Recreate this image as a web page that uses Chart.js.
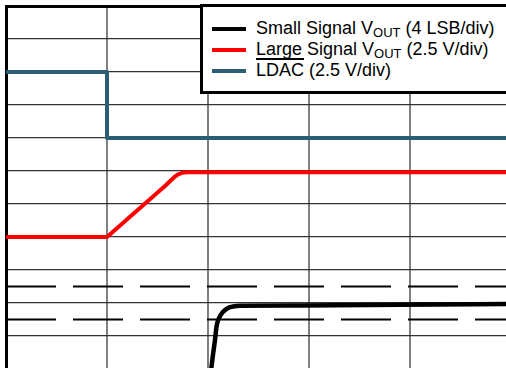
<!DOCTYPE html>
<html>
<head>
<meta charset="utf-8">
<script src="https://cdn.jsdelivr.net/npm/chart.js@4/dist/chart.umd.min.js"></script>
<style>
  html, body { margin: 0; padding: 0; background: #fff; overflow: hidden; }
  #wrap { position: relative; width: 506px; height: 368px; }
  #legend {
    position: absolute; left: 200px; top: 4px; width: 330px; height: 90px;
    box-sizing: border-box; border: 3px solid #000; border-right: none;
    background: #fff; font-family: "Liberation Sans", Arial, sans-serif; color: #000;
  }
  .row { position: absolute; left: 0; height: 20px; }
  .swatch { position: absolute; left: 9px; width: 34px; height: 4px; }
  .label { position: absolute; left: 53px; top: -11px; font-size: 18px; white-space: nowrap; line-height: 20px; }
  .label sub { font-size: 13px; vertical-align: -3px; line-height: 0; }
  .over { text-decoration: overline; text-decoration-thickness: 2px; }
</style>
</head>
<body>
<div id="wrap">
  <canvas id="scope" width="506" height="368"></canvas>
  <div id="legend"></div>
</div>
<script>
// oscilloscope divisions: x in horizontal divs, y in vertical divs
const xGrid = [0, 1, 2, 3, 4];
const yGrid = [0, 1, 2, 3, 4, 5, 6, 7, 8, 9, 10];

const ldacX = [0, 1, 1, 4.95];
const ldacY = [8, 8, 6, 6];

const largeX = [0, 1, 1.574, 1.673, 1.705, 1.735, 1.765, 1.80, 1.86, 4.95];
const largeY = [3, 3, 4.545, 4.833, 4.9, 4.935, 4.952, 4.96, 4.962, 4.96];

const smallX = [2.03, 2.05, 2.069, 2.085, 2.11, 2.145, 2.198, 2.26, 2.317, 2.91, 3.9, 4.95];
const smallY = [-1.05, -0.55, -0.12, 0.3, 0.55, 0.72, 0.848, 0.9, 0.918, 0.924, 0.945, 0.97];

const limitX = [0, 4.95];
const upperLimit = [1.5, 1.5];
const lowerLimit = [0.5, 0.5];

const seriesNames = ['Small Signal V', 'Large Signal V', 'LDAC'];

function pts(xs, ys) {
  return xs.map((x, i) => ({ x: x, y: ys[i] }));
}

const TEAL = '#2b5d74';

new Chart(document.getElementById('scope').getContext('2d'), {
  type: 'line',
  data: {
    datasets: [
      { data: pts(limitX, upperLimit), borderColor: '#000', borderWidth: 2, borderDash: [50, 17] },
      { data: pts(limitX, lowerLimit), borderColor: '#000', borderWidth: 2, borderDash: [50, 17] },
      { data: pts(ldacX, ldacY), borderColor: TEAL, borderWidth: 4 },
      { data: pts(largeX, largeY), borderColor: '#ff0000', borderWidth: 4 },
      { data: pts(smallX, smallY), borderColor: '#000', borderWidth: 4.5, cubicInterpolationMode: 'monotone' }
    ]
  },
  options: {
    responsive: false,
    animation: false,
    events: [],
    layout: { padding: { left: 6, top: 6, right: 0, bottom: 0 } },
    elements: { point: { radius: 0 }, line: { borderJoinStyle: 'round', borderCapStyle: 'butt' } },
    plugins: { legend: { display: false }, tooltip: { enabled: false } },
    scales: {
      x: {
        type: 'linear', position: 'top', min: 0, max: 4.95,
        afterBuildTicks: s => { s.ticks = xGrid.map(v => ({ value: v })); },
        ticks: { display: false },
        grid: { color: '#808080', lineWidth: 2, drawTicks: false },
        border: { display: true, color: '#000', width: 3 }
      },
      y: {
        type: 'linear', position: 'left', min: -0.97, max: 10,
        afterBuildTicks: s => { s.ticks = yGrid.map(v => ({ value: v })); },
        ticks: { display: false },
        grid: { color: '#333', lineWidth: 1.2, drawTicks: false },
        border: { display: true, color: '#000', width: 3 }
      }
    }
  }
});

// legend with subscripts and the LDAC overline
const legend = document.getElementById('legend');
const rows = [
  { color: '#000', html: seriesNames[0] + '<sub>OUT</sub> (4 LSB/div)' },
  { color: '#ff0000', html: seriesNames[1] + '<sub>OUT</sub> (2.5 V/div)' },
  { color: TEAL, html: '<span class="over">' + seriesNames[2] + '</span> (2.5 V/div)' }
];
rows.forEach((r, i) => {
  const row = document.createElement('div');
  row.className = 'row';
  row.style.top = (22 + i * 20.8) + 'px';
  row.innerHTML = '<div class="swatch" style="background:' + r.color + ';top:-2px"></div>' +
    '<div class="label">' + r.html + '</div>';
  legend.appendChild(row);
});
</script>
</body>
</html>
